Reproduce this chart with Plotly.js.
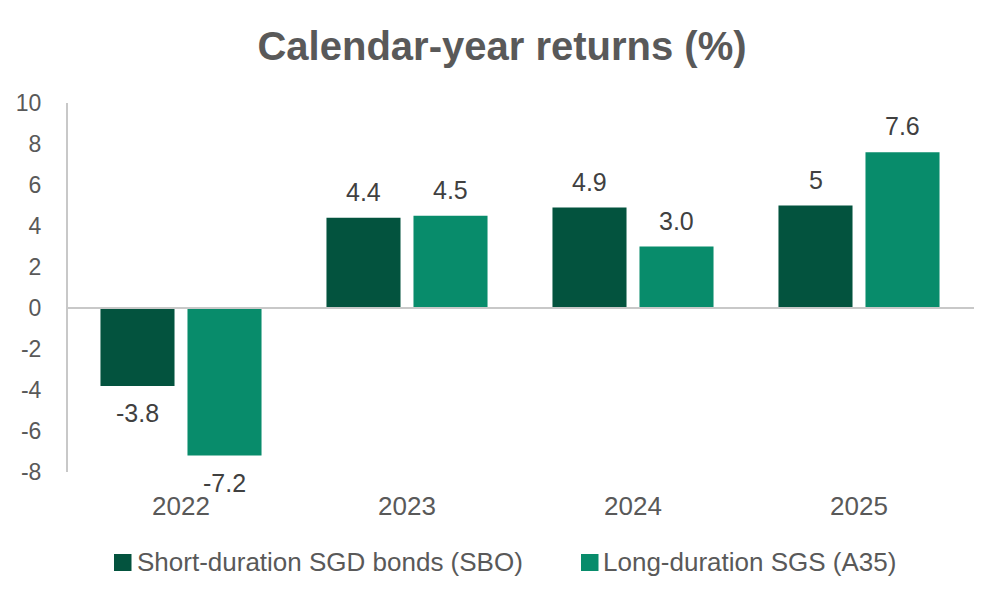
<!DOCTYPE html>
<html>
<head>
<meta charset="utf-8">
<script src="https://cdn.plot.ly/plotly-3.0.1.min.js"></script>
<style>
  html, body { margin: 0; padding: 0; background: #ffffff; }
  #chart { width: 1004px; height: 603px; }
</style>
</head>
<body>
<div id="chart"></div>
<script>
// Calendar-year returns of two SGD bond funds
const years = ['2022', '2023', '2024', '2025'];
const sboName = 'Short-duration SGD bonds (SBO)';
const a35Name = 'Long-duration SGS (A35)';
const sboValues = [-3.8, 4.4, 4.9, 5.0];
const a35Values = [-7.2, 4.5, 3.0, 7.6];
const sboLabels = ['-3.8', '4.4', '4.9', '5'];
const a35Labels = ['-7.2', '4.5', '3.0', '7.6'];
const yTicks = [-8, -6, -4, -2, 0, 2, 4, 6, 8, 10];

const darkGreen = '#03533e';
const teal = '#088c6b';
const axisGrey = '#c8c8c8';
const textGrey = '#595959';
const labelGrey = '#404040';
const font = 'Liberation Sans, Arial, sans-serif';

const traces = [
  { type: 'bar', name: sboName, x: years, y: sboValues,
    marker: { color: darkGreen }, hoverinfo: 'x+y' },
  { type: 'bar', name: a35Name, x: years, y: a35Values,
    marker: { color: teal }, hoverinfo: 'x+y' }
];

// value labels sit a fixed distance beyond the end of each bar
const barOffset = 43.5;
const annotations = [];
[[sboValues, sboLabels, -barOffset], [a35Values, a35Labels, barOffset]].forEach(([vals, labs, dx]) => {
  vals.forEach((v, i) => {
    annotations.push({
      x: i, y: v, xref: 'x', yref: 'y',
      text: labs[i], showarrow: false,
      xshift: dx, yshift: v >= 0 ? 26 : -27,
      xanchor: 'center', yanchor: 'middle',
      font: { family: font, size: 25, color: labelGrey }
    });
  });
});

// legend: coloured squares with their series names
const legendItems = [
  { name: sboName, color: darkGreen, x0: 114, tx: 135 },
  { name: a35Name, color: teal, x0: 581, tx: 601 }
];
const plotLeft = 68, plotWidth = 904, plotBottom = 472, plotHeight = 369;
const px = v => (v - plotLeft) / plotWidth;
const py = v => (plotBottom - v) / plotHeight;
const shapes = [
  // zero line drawn over the bars
  { type: 'line', xref: 'paper', yref: 'y', x0: 0, x1: px(974), y0: 0, y1: 0,
    line: { color: axisGrey, width: 2 }, layer: 'above' }
];
legendItems.forEach(it => {
  shapes.push({ type: 'rect', xref: 'paper', yref: 'paper',
    x0: px(it.x0), x1: px(it.x0 + 17.5), y0: py(571), y1: py(554),
    fillcolor: it.color, line: { width: 0 } });
  annotations.push({ xref: 'paper', yref: 'paper', x: px(it.tx), y: py(562),
    xanchor: 'left', yanchor: 'middle', showarrow: false, text: it.name,
    font: { family: font, size: 26, color: textGrey } });
});

const layout = {
  width: 1004, height: 603,
  margin: { l: 68, r: 32, t: 103, b: 131 },
  paper_bgcolor: '#ffffff', plot_bgcolor: '#ffffff',
  showlegend: false,
  title: {
    text: '<b>Calendar-year returns (%)</b>',
    x: 0.5, xanchor: 'center', xref: 'container',
    y: 1 - 46 / 603, yanchor: 'middle', yref: 'container',
    font: { family: font, size: 40, color: textGrey }
  },
  barmode: 'group', bargap: 0.23, bargroupgap: 0.149,
  xaxis: {
    type: 'category', categoryarray: years, categoryorder: 'array',
    range: [-0.5, years.length - 0.5], autorange: false,
    showgrid: false, zeroline: false, showline: false,
    ticks: '', ticklabelstandoff: 16,
    tickfont: { family: font, size: 26, color: textGrey }
  },
  yaxis: {
    range: [-8, 10], autorange: false, tickvals: yTicks, ticktext: yTicks.map(String),
    showgrid: false, zeroline: false,
    showline: true, linecolor: axisGrey, linewidth: 2,
    ticks: '', ticklabelstandoff: 20,
    tickfont: { family: font, size: 23, color: textGrey }
  },
  shapes: shapes,
  annotations: annotations
};

Plotly.newPlot('chart', traces, layout, { displayModeBar: false, staticPlot: true });
</script>
</body>
</html>
